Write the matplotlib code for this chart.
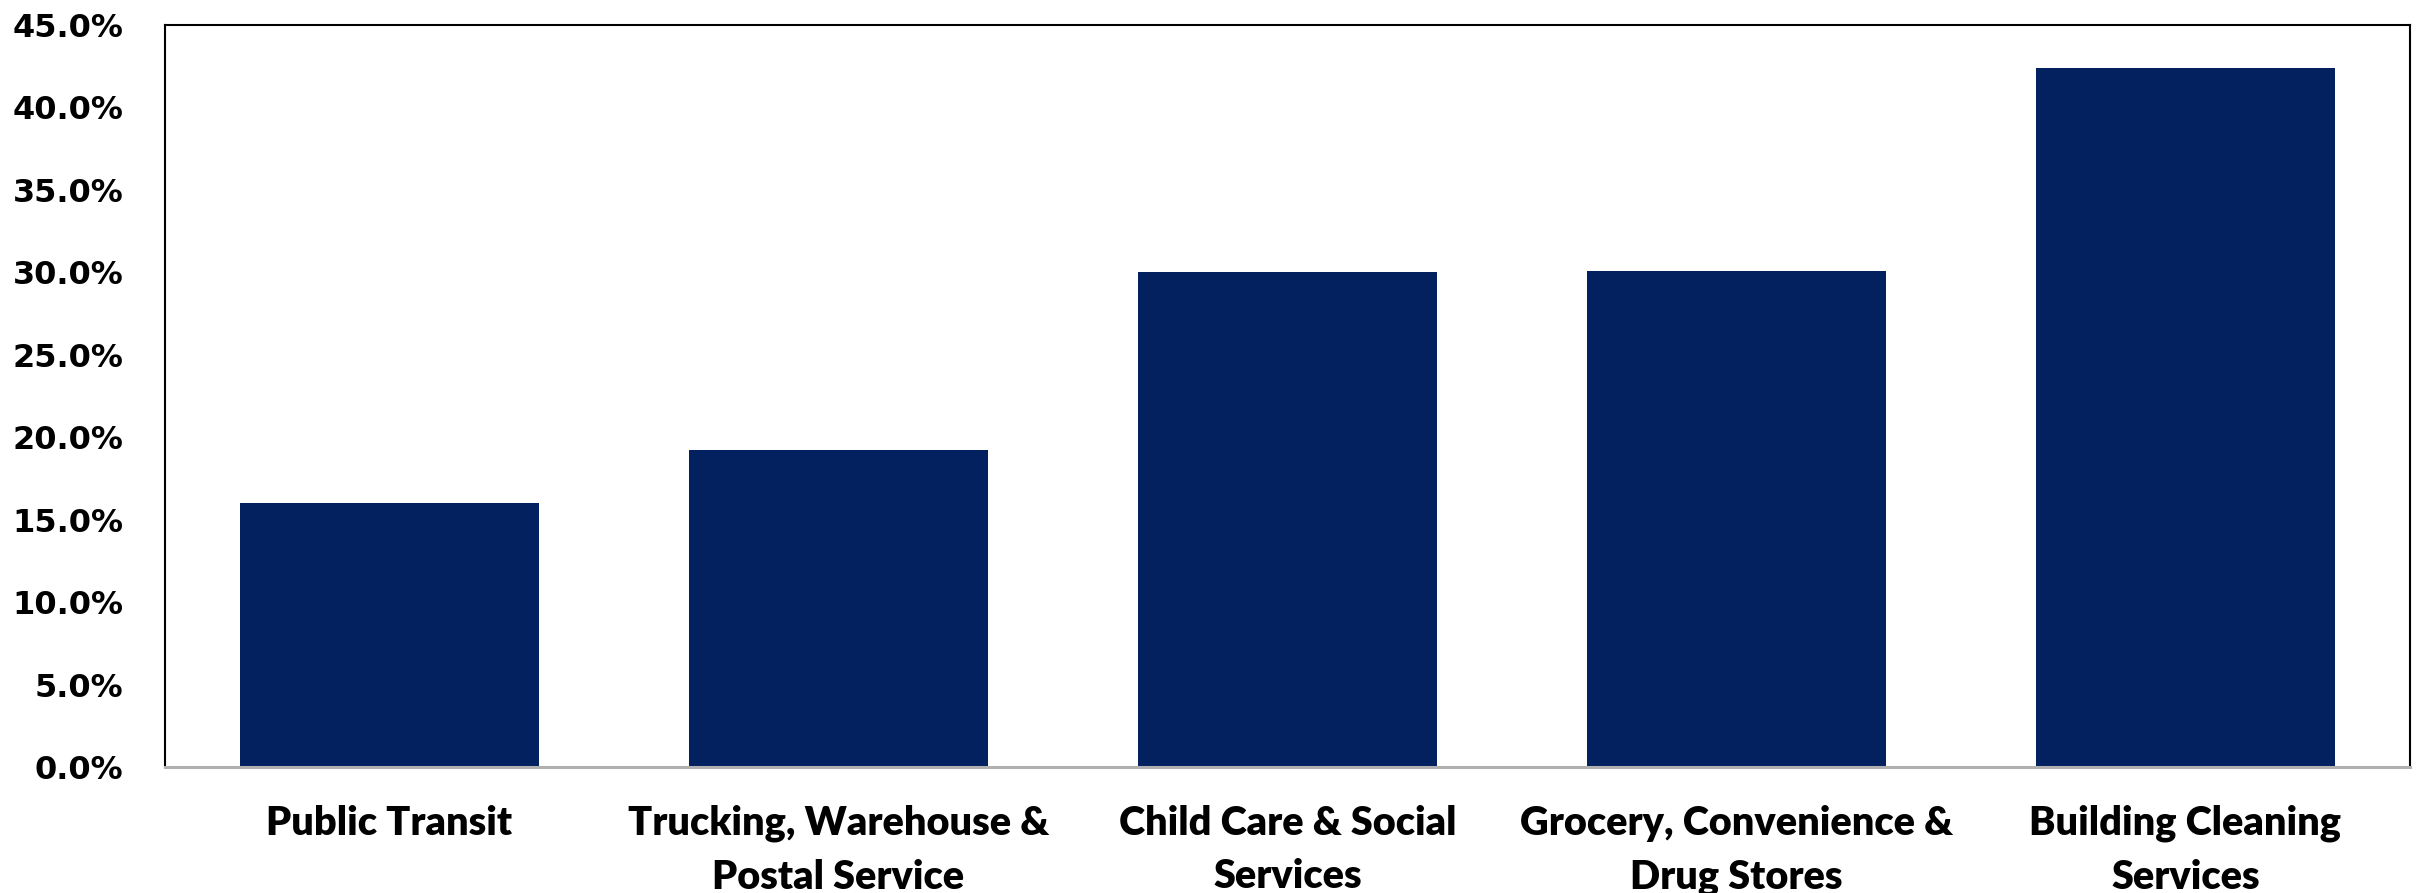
import matplotlib
matplotlib.use("Agg")
import matplotlib.pyplot as plt
from matplotlib.ticker import PercentFormatter

categories = [
    "Public Transit",
    "Trucking, Warehouse &\nPostal Service",
    "Child Care & Social\nServices",
    "Grocery, Convenience &\nDrug Stores",
    "Building Cleaning\nServices",
]
shares = [16.0, 19.2, 30.0, 30.1, 42.4]
y_ticks = [0, 5, 10, 15, 20, 25, 30, 35, 40, 45]

bar_color = "#03215F"

fig = plt.figure(figsize=(24.22, 8.93), dpi=100)
ax = fig.add_axes([0.0681, 0.141, 0.9269, 0.831])

x = range(len(categories))
ax.bar(x, shares, width=0.665, color=bar_color, zorder=2)

ax.set_xlim(-0.5, len(categories) - 0.5)
ax.set_ylim(0, 45)
ax.set_yticks(y_ticks)
ax.yaxis.set_major_formatter(PercentFormatter(decimals=1))
ax.set_xticks(list(x))
ax.set_xticklabels(categories, fontfamily="Lato", fontweight="heavy",
                   fontsize=28.5, linespacing=1.55)
for lab in ax.get_yticklabels():
    lab.set_fontfamily("DejaVu Sans")
    lab.set_fontweight("bold")
    lab.set_fontsize(23)

ax.tick_params(axis="both", length=0)
ax.tick_params(axis="y", pad=30)
ax.tick_params(axis="x", pad=27)

for side in ("top", "left", "right"):
    ax.spines[side].set_color("black")
    ax.spines[side].set_linewidth(1.5)
ax.spines["bottom"].set_color("#B0B0B0")
ax.spines["bottom"].set_linewidth(2.2)

fig.savefig("out.png", dpi=100)
